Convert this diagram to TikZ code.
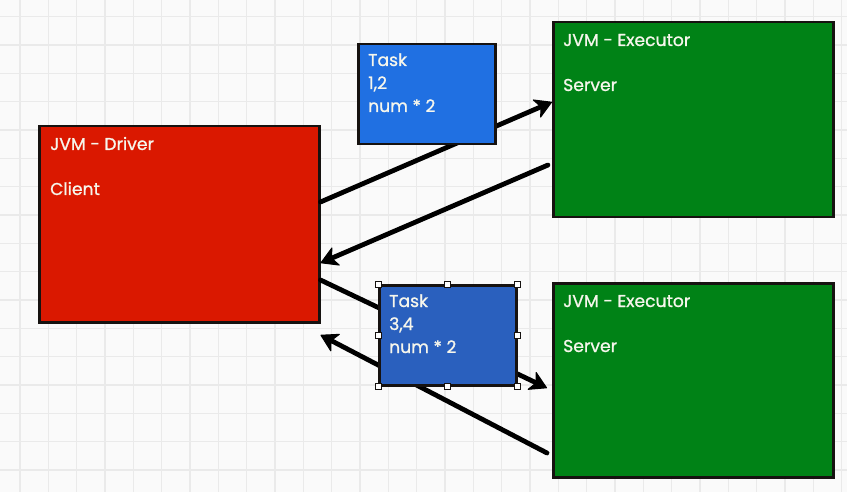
\documentclass[tikz,border=0pt]{standalone}
\usepackage{fontspec}
\setmainfont{Poppins}
\newfontfamily\lblfont{Poppins}[FakeBold=1]
\usetikzlibrary{arrows.meta,calc}
\definecolor{bgc}{RGB}{250,250,250}
\definecolor{gridc}{RGB}{234,234,234}
\definecolor{drvred}{RGB}{218,24,0}
\definecolor{exgreen}{RGB}{0,130,22}
\definecolor{taskblue}{RGB}{32,112,226}
\definecolor{taskblueb}{RGB}{42,96,190}
\definecolor{edgec}{RGB}{22,18,16}
\definecolor{txtc}{RGB}{246,246,236}
\tikzset{
  box/.style={draw=edgec, line width=2.5pt, inner sep=0pt, anchor=north west},
  bigbox/.style={box, minimum width=280pt, minimum height=195pt},
  taskbox/.style={box, minimum width=137pt, minimum height=100pt},
  lbl/.style={anchor=base west, inner sep=0pt, text=txtc, font=\lblfont\fontsize{17.2}{20}\selectfont},
  tiph/.tip={Stealth[length=18pt,width=21pt,inset=5pt,line width=1pt,round]},
  arr/.style={draw=black, line width=4.8pt, line cap=round, -tiph},
  handle/.style={draw=edgec, fill=white, line width=0.8pt, minimum size=6pt, inner sep=0pt}
}
\begin{document}
\begin{tikzpicture}[x=1pt,y=-1pt]
\useasboundingbox (0,0) rectangle (847,492);
\fill[bgc] (0,0) rectangle (847,492);
\foreach \i in {0,...,29} {
  \draw[gridc, line width=1.3pt] ({20+28.33*\i},0) -- ({20+28.33*\i},492);
}
\foreach \j in {0,...,16} {
  \draw[gridc, line width=1.3pt] (0,{16.7+28.33*\j}) -- (847,{16.7+28.33*\j});
}
% main boxes
\node[bigbox, fill=drvred, minimum height=196pt] (drv) at (38,125) {};
\node[bigbox, fill=exgreen] (ex1) at (552,21) {};
\node[bigbox, fill=exgreen, minimum height=194pt] (ex2) at (552,282) {};
\node[lbl] (drva) at ([shift={(12,25)}]drv.north west) {JVM - Driver};
\node[lbl] (drvb) at ([shift={(12,70)}]drv.north west) {Client};
\node[lbl] (ex1a) at ([shift={(11,25)}]ex1.north west) {JVM - Executor};
\node[lbl] (ex1b) at ([shift={(11,70)}]ex1.north west) {Server};
\node[lbl] (ex2a) at ([shift={(11,25)}]ex2.north west) {JVM - Executor};
\node[lbl] (ex2b) at ([shift={(11,70)}]ex2.north west) {Server};
% anchor heights
\coordinate (h1) at (0,202);
\coordinate (h2) at (0,102);
\coordinate (h3) at (0,165);
\coordinate (h4) at (0,263);
\coordinate (h5) at (0,280);
\coordinate (h6) at (0,388);
\coordinate (h7) at (0,453);
\coordinate (h8) at (0,335);
% connectors
\draw[arr] (drv.east |- h1) -- (ex1.west |- h2);
\draw[arr] ([xshift=-4pt]ex1.west |- h3) -- (drv.east |- h4);
\draw[arr] (drv.east |- h5) -- ([xshift=-5pt]ex2.west |- h6);
\draw[arr] ([xshift=-5pt]ex2.west |- h7) -- (drv.east |- h8);
% task boxes
\node[taskbox, fill=taskblue] (t1) at (357,43) {};
\node[lbl] (t1a) at ([shift={(11,23)}]t1.north west) {Task};
\node[lbl] (t1b) at ([shift={(11,46)}]t1.north west) {1,2};
\node[lbl] (t1c) at ([shift={(11,69)}]t1.north west) {num * 2};
\node[taskbox, fill=taskblueb] (t2) at (378,284) {};
\node[lbl] (t2a) at ([shift={(11,23)}]t2.north west) {Task};
\node[lbl] (t2b) at ([shift={(11,46)}]t2.north west) {3,4};
\node[lbl] (t2c) at ([shift={(11,69)}]t2.north west) {num * 2};
\foreach \a in {north west,north,north east,west,east,south west,south,south east} {
  \node[handle] at (t2.\a) {};
}
\end{tikzpicture}
\end{document}
